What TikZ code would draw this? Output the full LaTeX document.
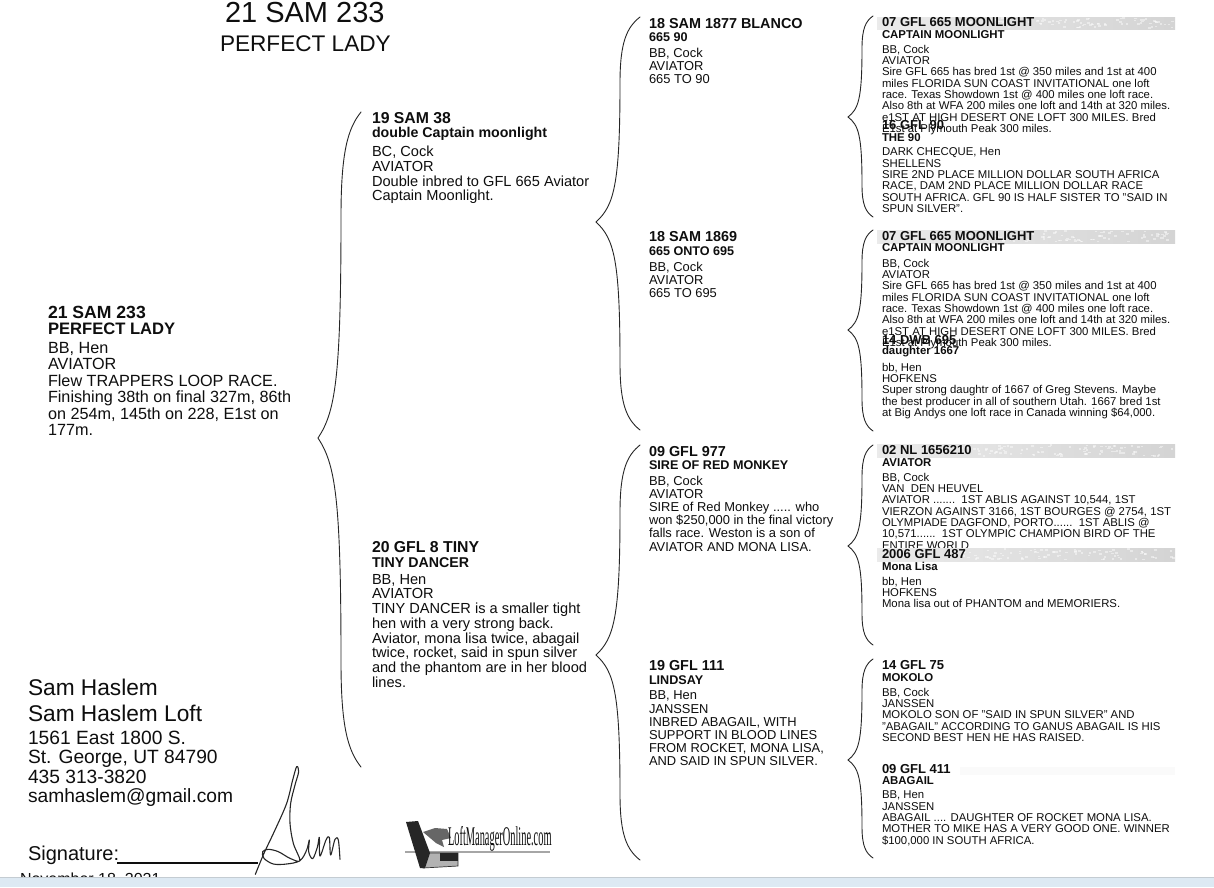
\documentclass[tikz,border=0pt]{standalone}
\usepackage{fontspec}
\usepackage{graphicx}
\setmainfont{Liberation Sans}
\newfontfamily\logofont{Liberation Serif}
\definecolor{ink}{HTML}{0E0E0E}
\definecolor{bandblue}{HTML}{DDE9F3}
\definecolor{bandedge}{HTML}{C4CCD2}
\newcommand{\fs}[2]{\fontsize{#1pt}{#2pt}\selectfont}
\tikzset{
  txt/.style={inner sep=0pt,outer sep=0pt,text=ink,align=left},
  head/.style={txt,anchor=west},
  body/.style={txt,anchor=north west},
  gfour/.style={font=\fs{11.35}{11.3}},
  gthree/.style={font=\fs{12.9}{13.15}},
  gtwo/.style={font=\fs{14.6}{14.75}},
  gone/.style={font=\fs{16.2}{16.5}},
  hfour/.style={font=\bfseries\fs{13}{13}},
  sfour/.style={font=\bfseries\fs{11.4}{11.4}},
  hthree/.style={font=\bfseries\fs{14.4}{14}},
  sthree/.style={font=\bfseries\fs{12.6}{12.6}},
  htwo/.style={font=\bfseries\fs{15.8}{15}},
  stwo/.style={font=\bfseries\fs{14.2}{14}},
  hone/.style={font=\bfseries\fs{17.6}{17}},
  sone/.style={font=\bfseries\fs{16.6}{16}},
  brace/.style={draw=black!85,line width=0.9pt,line cap=round},
  bar/.style={left color=gray!16,right color=gray!34,draw=none},
}
% #1 end x, #2 top y, #3 tip x, #4 tip y, #5 bottom y, #6 spine x
\newcommand{\pedbrace}[6]{%
  \draw[brace] (#1,#2) .. controls ({#6+(#1-#6)*0.35},{#2+(#4-#2)*0.05}) and (#6,{#2+(#4-#2)*0.12}) .. (#6,{#2+(#4-#2)*0.32})
    .. controls (#6,{#4-(#4-#2)*0.18}) and ({#6-(#6-#3)*0.25},{#4-(#4-#2)*0.08}) .. (#3,#4)
    .. controls ({#6-(#6-#3)*0.25},{#4+(#5-#4)*0.08}) and (#6,{#4+(#5-#4)*0.18}) .. (#6,{#4+(#5-#4)*0.68})
    .. controls (#6,{#5-(#5-#4)*0.12}) and ({#6+(#1-#6)*0.35},{#5-(#5-#4)*0.05}) .. (#1,#5);}
% speckled scan texture on a header bar: #1 top y, #2 height
\newcommand{\mottle}[2]{%
  \foreach \k in {1,...,90}{%
    \pgfmathsetmacro{\mx}{960+rnd*213}%
    \pgfmathsetmacro{\my}{#1+rnd*(#2-2)}%
    \fill[white,opacity=0.45] (\mx,\my) rectangle ++(2.5,1.6);%
  }}
\begin{document}
\begin{tikzpicture}[x=1pt,y=-1pt]
\useasboundingbox (0,0) rectangle (1214,887);
\pgfmathsetseed{4217}
\fill[white] (0,0) rectangle (1214,887);

% clipped date, then the window band over it
\node[head,font=\fs{16}{16}] (datel) at (20,880) {November 18, 2021};
\fill[white] (0,880) rectangle (400,887);
\fill[bandedge] (0,876.5) rectangle (1214,878);
\fill[bandblue] (0,878) rectangle (1214,887);

% titles
\node[txt,anchor=west,font=\fs{29}{29}] (title) at (225,13) {21 SAM 233};
\node[txt,anchor=west,font=\fs{22.6}{24}] (subtitle) at (220,44) {PERFECT LADY};

% first generation
\node[head,hone] (a1) at (48,312) {21 SAM 233};
\node[head,sone] (a2) at (48,328.5) {PERFECT LADY};
\node[body,gone] (a3) at (48,342) {BB, Hen\\AVIATOR\\Flew TRAPPERS LOOP RACE.\\Finishing 38th on final 327m, 86th\\on 254m, 145th on 228, E1st on\\177m.};

% second generation
\node[head,htwo] (b1) at (372,118) {19 SAM 38};
\node[head,stwo] (b2) at (372,133.5) {double Captain moonlight};
\node[body,gtwo] (b3) at (372,146) {BC, Cock\\AVIATOR\\Double inbred to GFL 665 Aviator\\Captain Moonlight.};
\node[head,htwo] (c1) at (372,547) {20 GFL 8 TINY};
\node[head,stwo] (c2) at (372,562.5) {TINY DANCER};
\node[body,gtwo] (c3) at (372,574) {BB, Hen\\AVIATOR\\TINY DANCER is a smaller tight\\hen with a very strong back.\\Aviator, mona lisa twice, abagail\\twice, rocket, said in spun silver\\and the phantom are in her blood\\lines.};

% third generation
\node[head,hthree] (d1) at (649,23.5) {18 SAM 1877 BLANCO};
\node[head,sthree] (d2) at (649,37.5) {665 90};
\node[body,gthree] (d3) at (649,48) {BB, Cock\\AVIATOR\\665 TO 90};
\node[head,hthree] (e1) at (649,237) {18 SAM 1869};
\node[head,sthree] (e2) at (649,251) {665 ONTO 695};
\node[body,gthree] (e3) at (649,262) {BB, Cock\\AVIATOR\\665 TO 695};
\node[head,hthree] (f1) at (649,452) {09 GFL 977};
\node[head,sthree] (f2) at (649,465) {SIRE OF RED MONKEY};
\node[body,gthree] (f3) at (649,476) {BB, Cock\\AVIATOR\\SIRE of Red Monkey ..... who\\won \$250,000 in the final victory\\falls race. Weston is a son of\\AVIATOR AND MONA LISA.};
\node[head,hthree] (g1) at (649,666) {19 GFL 111};
\node[head,sthree] (g2) at (649,680) {LINDSAY};
\node[body,gthree] (g3) at (649,691) {BB, Hen\\JANSSEN\\INBRED ABAGAIL, WITH\\SUPPORT IN BLOOD LINES\\FROM ROCKET, MONA LISA,\\AND SAID IN SPUN SILVER.};

% fourth generation
\fill[bar] (877,17) rectangle (1175,29);
\mottle{17}{12}
\node[head,hfour] (h1) at (882,22.5) {07 GFL 665 MOONLIGHT};
\node[head,sfour] (h2) at (882,34.5) {CAPTAIN MOONLIGHT};
\node[body,gfour] (h3) at (882,45) {BB, Cock\\AVIATOR\\Sire GFL 665 has bred 1st @ 350 miles and 1st at 400\\miles FLORIDA SUN COAST INVITATIONAL one loft\\race. Texas Showdown 1st @ 400 miles one loft race.\\Also 8th at WFA 200 miles one loft and 14th at 320 miles.\\e1ST AT HIGH DESERT ONE LOFT 300 MILES. Bred\\E1st at Plymouth Peak 300 miles.};
\node[head,hfour] (i1) at (882,125) {16 GFL 90};
\node[head,sfour] (i2) at (882,137.5) {THE 90};
\node[body,gfour] (i3) at (882,148) {DARK CHECQUE, Hen\\SHELLENS\\SIRE 2ND PLACE MILLION DOLLAR SOUTH AFRICA\\RACE, DAM 2ND PLACE MILLION DOLLAR RACE\\SOUTH AFRICA. GFL 90 IS HALF SISTER TO "SAID IN\\SPUN SILVER".};

\fill[bar] (877,230) rectangle (1175,243);
\mottle{230}{13}
\node[head,hfour] (j1) at (882,236) {07 GFL 665 MOONLIGHT};
\node[head,sfour] (j2) at (882,248) {CAPTAIN MOONLIGHT};
\node[body,gfour] (j3) at (882,259) {BB, Cock\\AVIATOR\\Sire GFL 665 has bred 1st @ 350 miles and 1st at 400\\miles FLORIDA SUN COAST INVITATIONAL one loft\\race. Texas Showdown 1st @ 400 miles one loft race.\\Also 8th at WFA 200 miles one loft and 14th at 320 miles.\\e1ST AT HIGH DESERT ONE LOFT 300 MILES. Bred\\E1st at Plymouth Peak 300 miles.};
\node[head,hfour] (k1) at (882,340) {14 DWB 695};
\node[head,sfour] (k2) at (882,352) {daughter 1667};
\node[body,gfour] (k3) at (882,363) {bb, Hen\\HOFKENS\\Super strong daughtr of 1667 of Greg Stevens. Maybe\\the best producer in all of southern Utah. 1667 bred 1st\\at Big Andys one loft race in Canada winning \$64,000.};

\fill[bar] (877,444) rectangle (1175,457);
\mottle{444}{13}
\node[head,hfour] (l1) at (882,450) {02 NL 1656210};
\node[head,sfour] (l2) at (882,463) {AVIATOR};
\node[body,gfour] (l3) at (882,473) {BB, Cock\\VAN\ \ DEN HEUVEL\\AVIATOR .......\ \ 1ST ABLIS AGAINST 10,544, 1ST\\VIERZON AGAINST 3166, 1ST BOURGES @ 2754, 1ST\\OLYMPIADE DAGFOND, PORTO......\ \ 1ST ABLIS @\\10,571......\ \ 1ST OLYMPIC CHAMPION BIRD OF THE\\ENTIRE WORLD};
\fill[bar] (877,548) rectangle (1175,561);
\mottle{548}{13}
\node[head,hfour] (m1) at (882,554.5) {2006 GFL 487};
\node[head,sfour] (m2) at (882,566.5) {Mona Lisa};
\node[body,gfour] (m3) at (882,577) {bb, Hen\\HOFKENS\\Mona lisa out of PHANTOM and MEMORIERS.};

\node[head,hfour] (n1) at (882,665) {14 GFL 75};
\node[head,sfour] (n2) at (882,677.5) {MOKOLO};
\node[body,gfour] (n3) at (882,688) {BB, Cock\\JANSSEN\\MOKOLO SON OF "SAID IN SPUN SILVER" AND\\"ABAGAIL" ACCORDING TO GANUS ABAGAIL IS HIS\\SECOND BEST HEN HE HAS RAISED.};
\fill[gray!4] (960,767) rectangle (1175,775);
\node[head,hfour] (o1) at (882,769) {09 GFL 411};
\node[head,sfour] (o2) at (882,781) {ABAGAIL};
\node[body,gfour] (o3) at (882,791) {BB, Hen\\JANSSEN\\ABAGAIL .... DAUGHTER OF ROCKET MONA LISA.\\MOTHER TO MIKE HAS A VERY GOOD ONE. WINNER\\\$100,000 IN SOUTH AFRICA.};

% braces
\pedbrace{361}{112}{318}{438}{767}{341}
\pedbrace{640}{17}{596}{222}{430}{620}
\pedbrace{640}{445}{596}{655}{860}{620}
\pedbrace{873}{16}{848}{117}{217}{862}
\pedbrace{873}{230}{848}{330}{431}{862}
\pedbrace{873}{445}{848}{546}{645}{862}
\pedbrace{873}{659}{848}{760}{858}{862}

% contact block
\node[head,font=\fs{22.7}{23}] (p1) at (28,687) {Sam Haslem};
\node[head,font=\fs{22.7}{23}] (p2) at (28,713) {Sam Haslem Loft};
\node[body,font=\fs{19.2}{19.4}] (p3) at (28,731) {1561 East 1800 S.\\St. George, UT 84790\\435 313-3820\\samhaslem@gmail.com};
\node[head,font=\fs{20}{20}] (p4) at (28,855) {Signature:};
\draw[ink,line width=1.1pt] (117,863) -- (258,863);

% signature
\begin{scope}[shift={(240,760)},x=0.3333pt,y=-0.3333pt]
\draw[ink!90,line width=1.1pt,line join=round,line cap=round] plot[smooth,tension=0.55] coordinates {(46,343) (72,280) (105,210) (140,130) (158,60) (170,20) (176,35) (165,75) (152,130) (150,190) (160,250) (180,302) (150,295) (115,275) (85,268) (68,275) (72,295) (100,312) (140,312) (180,302) (200,270) (208,240) (206,275) (218,296) (232,262) (238,232) (240,288) (258,240) (268,232) (272,285) (285,238) (295,240) (300,298)};
\end{scope}

% logo
\fill[black!35] (405,850.5) rectangle (550,852.5);
\fill[black!30,draw=black!80,line width=0.7pt] (417,853) -- (458,853) -- (458,866) -- (423,868) -- cycle;
\fill[black!85] (406,822) -- (418,821) -- (430,853) -- (425,868) -- (420,868) -- cycle;
\fill[black!60] (423,832) -- (435,828) -- (447,829) -- (451,838) -- (442,840) -- (444,847) -- (436,843) -- cycle;
\fill[black!85] (440,853) rectangle (458,861);
\node[txt,anchor=west,inner sep=0pt] (logo) at (448,838.5) {\scalebox{0.385}[1]{\logofont\fs{27}{27}LoftManagerOnline.com}};
\end{tikzpicture}
\end{document}
